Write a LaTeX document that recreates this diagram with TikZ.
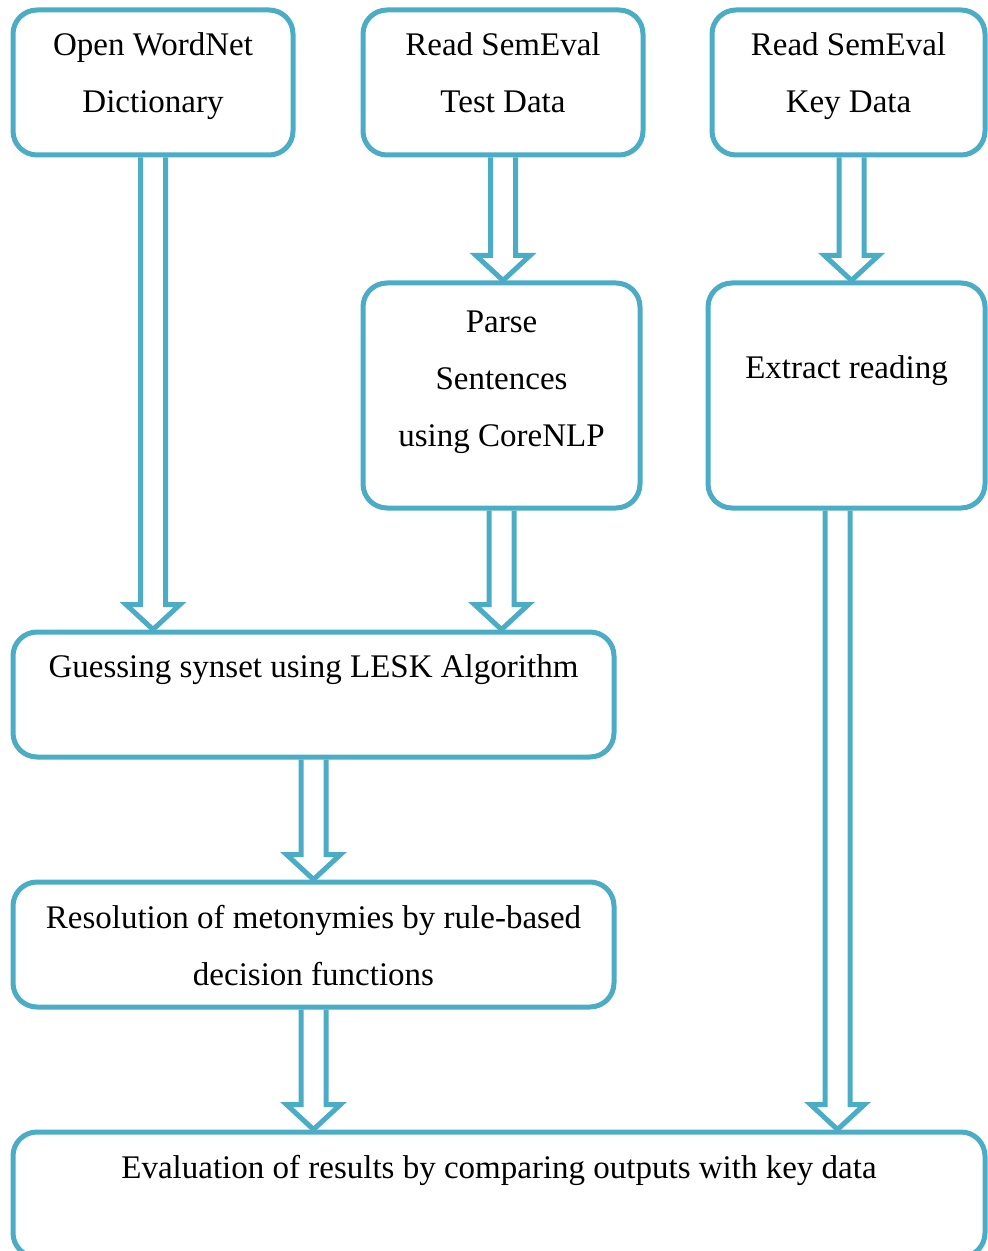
\documentclass[tikz,border=0pt]{standalone}
\usepackage{fontspec}
\setmainfont{Liberation Serif}
\usetikzlibrary{calc, positioning}
\definecolor{flowblue}{HTML}{4BACC6}
\tikzstyle{box} = [draw=flowblue, line width=2.5pt, rounded corners=12pt, rectangle]
\tikzstyle{txt} = [font=\fontsize{16.5}{28.5}\selectfont, align=center, inner sep=0pt]
\tikzstyle{hollow} = [draw=flowblue, line width=2.5pt, line join=miter, to path={
    let \p1=(\tikztostart), \p2=(\tikztotarget) in
    (\x1-6.25pt,\y1) -- (\x1-6.25pt,\y2+12.5pt) -- (\x1-13.5pt,\y2+12.5pt) -- (\x1,\y2)
    -- (\x1+13.5pt,\y2+12.5pt) -- (\x1+6.25pt,\y2+12.5pt) -- (\x1+6.25pt,\y1)}]

\begin{document}
\begin{tikzpicture}[x=0.5pt, y=-0.5pt]
    \useasboundingbox (0,0) rectangle (987,1251);

    % Boxes.
    \node (wordnet) [box, minimum width=140pt, minimum height=72.5pt] at (153,82.5) {};
    \node (testdata) [box, minimum width=140pt, minimum height=72.5pt] at (503,82.5) {};
    \node (keydata) [box, minimum width=136.5pt, minimum height=72.5pt] at (848.5,82.5) {};
    \node (parse) [box, minimum width=138.5pt, minimum height=112.5pt] at (501.5,395.5) {};
    \node (reading) [box, minimum width=138.5pt, minimum height=112.5pt] at (846.5,395.5) {};
    \node (guess) [box, minimum width=300.5pt, minimum height=62.5pt] at (313.5,694.5) {};
    \node (resolve) [box, minimum width=300.5pt, minimum height=62.5pt] at (313.5,944.5) {};
    \node (evaluate) [box, minimum width=486pt, minimum height=62.5pt] at (499,1194.5) {};

    % Texts.
    \node (wordnetText) [txt, below=12.5pt of wordnet.north] {Open WordNet\\Dictionary};
    \node (testdataText) [txt, below=12.5pt of testdata.north] {Read SemEval\\Test Data};
    \node (keydataText) [txt, below=12.5pt of keydata.north] {Read SemEval\\Key Data};
    \node (parseText) [txt, below=15pt of parse.north] {Parse\\Sentences\\using CoreNLP};
    \node (readingText) [txt, below=37.5pt of reading.north] {Extract reading};
    \node (guessText) [txt, below=12.5pt of guess.north] {Guessing synset using LESK Algorithm};
    \node (resolveText) [txt, below=12.5pt of resolve.north] {Resolution of metonymies by rule-based\\decision functions};
    \node (evaluateText) [txt, below=12.5pt of evaluate.north] {Evaluation of results by comparing outputs with key data};

    % Arrows.
    \draw [hollow] (wordnet.south) to (wordnet.south |- guess.north);
    \draw [hollow] ([xshift=1.5pt]keydata.south) to ([xshift=1.5pt]keydata.south |- reading.north);
    \draw [hollow] ([xshift=-4.5pt]reading.south) to ([xshift=-4.5pt]reading.south |- evaluate.north);
    \foreach \a/\b in {testdata/parse, parse/guess, guess/resolve, resolve/evaluate} {
        \draw [hollow] (\a.south) to (\a.south |- \b.north);
    }
\end{tikzpicture}
\end{document}
